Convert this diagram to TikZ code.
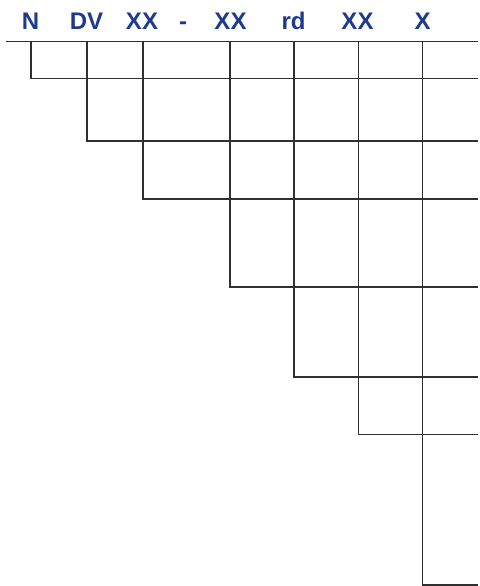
\documentclass[tikz,border=0pt]{standalone}
\usepackage{fontspec}
\setmainfont{Liberation Sans}
\definecolor{lbl}{HTML}{1E3A8A}
\definecolor{ln}{HTML}{303030}
\begin{document}
\begin{tikzpicture}[x=1pt,y=-1pt,
  grid/.style={draw=ln,line width=1.6pt},
  lab/.style={text=lbl,font=\fontsize{24}{28}\selectfont\bfseries,anchor=base,inner sep=0pt}]
\useasboundingbox (0,0) rectangle (479,586);
% labels
\node[lab] (l1) at (30.5,30) {N};
\node[lab] (l2) at (86.5,30) {DV};
\node[lab] (l3) at (142,30) {XX};
\node[lab] (l4) at (183,30) {-};
\node[lab] (l5) at (230.5,30) {XX};
\node[lab] (l6) at (293.5,30) {rd};
\node[lab] (l7) at (357.5,30) {XX};
\node[lab] (l8) at (422.5,30) {X};
% top line
\draw[grid] (6,41.7) -- (478,41.7);
% steps: x, bottom y
\foreach \x/\yb in {30.7/78.3, 86.7/140.7, 142.7/198.7, 230/286.7, 294/376.7, 358.3/434.3, 422.3/585}{
  \draw[grid] (\x,41.7) -- (\x,\yb) -- (478,\yb);
}
\end{tikzpicture}
\end{document}
